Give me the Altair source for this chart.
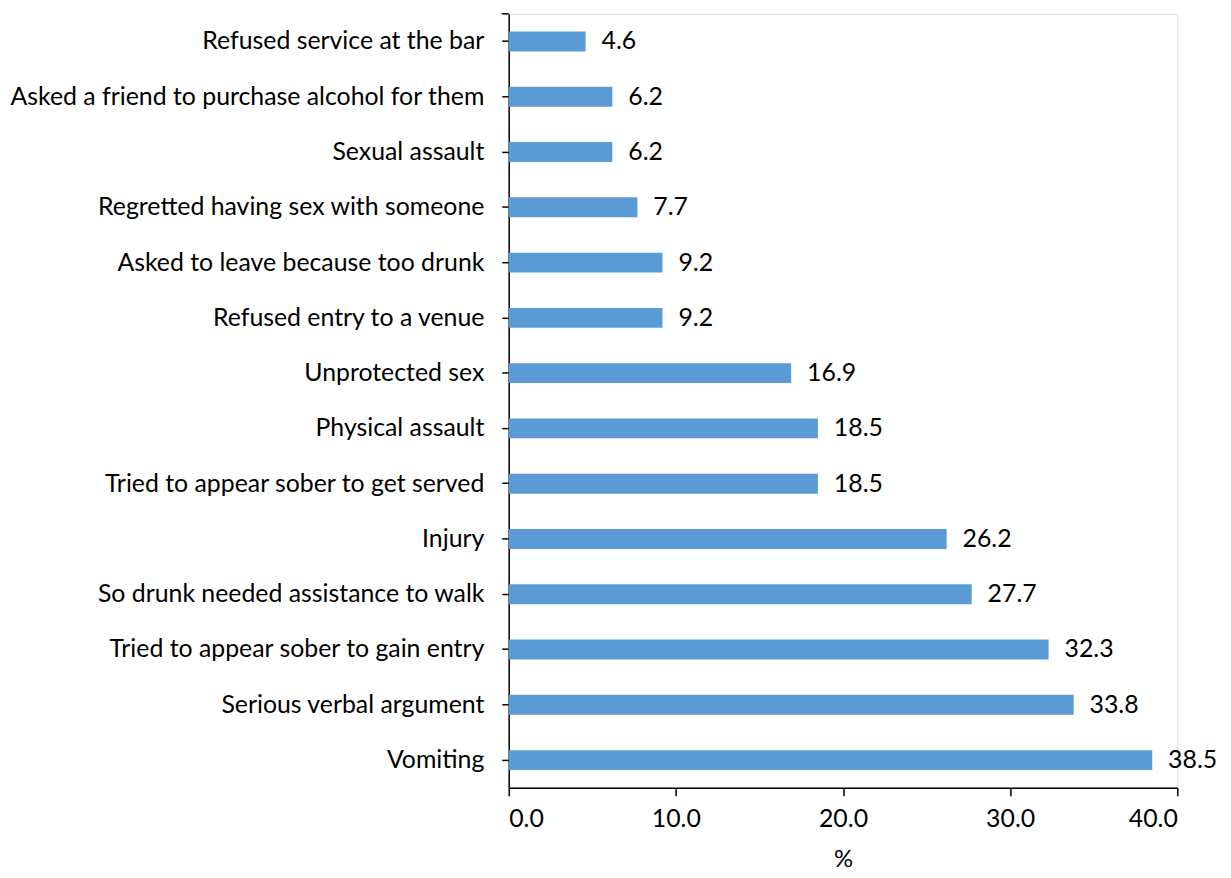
import altair as alt
import pandas as pd

categories = [
    "Refused service at the bar",
    "Asked a friend to purchase alcohol for them",
    "Sexual assault",
    "Regretted having sex with someone",
    "Asked to leave because too drunk",
    "Refused entry to a venue",
    "Unprotected sex",
    "Physical assault",
    "Tried to appear sober to get served",
    "Injury",
    "So drunk needed assistance to walk",
    "Tried to appear sober to gain entry",
    "Serious verbal argument",
    "Vomiting",
]
values = [4.6, 6.2, 6.2, 7.7, 9.2, 9.2, 16.9, 18.5, 18.5, 26.2, 27.7, 32.3, 33.8, 38.5]
x_ticks = [0, 10, 20, 30, 40]

df = pd.DataFrame({"category": categories, "value": values})
df["label"] = df["value"].map(lambda v: f"{v:.1f}")

FONT = "Lato"
FS = 25
W, H = 673, 779

y_enc = alt.Y("category:N", sort=categories, title=None,
              scale=alt.Scale(paddingInner=0.64, paddingOuter=0.32),
              axis=alt.Axis(labelFontSize=FS, labelFont=FONT, labelColor="black",
                            tickColor="black", domainColor="black", tickSize=7,
                            labelPadding=18, labelLimit=700, domainWidth=1.5, tickWidth=1.5))

x_scale = alt.Scale(domain=[0, 40], nice=False)

bars = alt.Chart(df).mark_bar(color="#5B9BD5").encode(
    x=alt.X("value:Q", scale=x_scale, title="%",
            axis=alt.Axis(values=x_ticks, format=".1f", grid=False,
                          labelFontSize=FS, labelFont=FONT, labelColor="black",
                          titleFontSize=FS - 1, titleFont=FONT, titleFontWeight="normal",
                          titleColor="black", titlePadding=16,
                          tickColor="black", domainColor="black", tickSize=8,
                          labelPadding=11, domainWidth=1.5, tickWidth=1.5)),
    y=y_enc,
)

text = alt.Chart(df).mark_text(align="left", baseline="middle", dx=16,
                               fontSize=FS, font=FONT, color="black").encode(
    x=alt.X("value:Q", scale=x_scale),
    y=alt.Y("category:N", sort=categories),
    text="label:N",
)

cap = alt.Chart(pd.DataFrame({"a": [0]})).mark_rule(color="black", strokeWidth=1.5).encode(
    x=alt.value(-7), x2=alt.value(0), y=alt.value(0)
)

chart = alt.layer(bars, text, cap).properties(width=W, height=H).configure_view(
    strokeWidth=0, stroke="transparent"
).configure(padding={"left": 1, "top": 2, "right": 5, "bottom": 5})

chart.save("out.html", embed_options={"renderer": "svg", "actions": False})
